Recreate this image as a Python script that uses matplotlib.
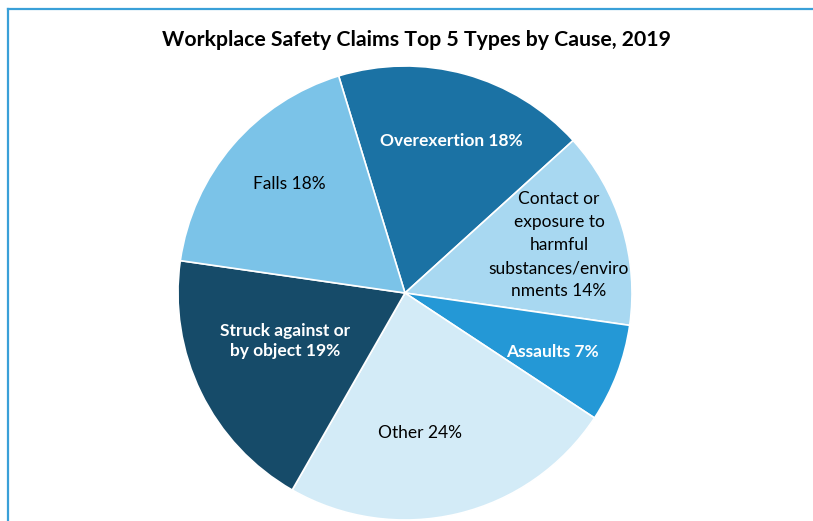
import matplotlib
matplotlib.use("Agg")
import matplotlib.pyplot as plt
from matplotlib.lines import Line2D

plt.rcParams['font.family'] = ['Lato', 'DejaVu Sans']

title = "Workplace Safety Claims Top 5 Types by Cause, 2019"
causes = ["Overexertion", "Contact or exposure to harmful substances/environments",
          "Assaults", "Other", "Struck against or by object", "Falls"]
shares = [18, 14, 7, 24, 19, 18]
colors = ["#1b72a4", "#a8d8f1", "#2498d6", "#d3ebf7", "#164b69", "#7bc3e8"]

# label text, position (pixels), colour, weight
labels = [
    ("Overexertion 18%", (451, 141), "white", "bold"),
    ("Contact or\nexposure to\nharmful\nsubstances/enviro\nnments 14%", (559, 245), "black", "normal"),
    ("Assaults 7%", (552, 352), "white", "bold"),
    ("Other 24%", (420, 433), "black", "normal"),
    ("Struck against or\nby object 19%", (285, 341), "white", "bold"),
    ("Falls 18%", (289, 184), "black", "normal"),
]

W, H = 813, 521
cx, cy, r = 405, 293, 227

fig = plt.figure(figsize=(W / 100, H / 100), dpi=100)
ax = fig.add_axes([(cx - r) / W, (H - cy - r) / H, 2 * r / W, 2 * r / H])
ax.pie(shares, colors=colors, startangle=107, counterclock=False, radius=1,
       wedgeprops=dict(edgecolor="white", linewidth=1.2))
ax.set_xlim(-1, 1)
ax.set_ylim(-1, 1)
ax.set_aspect("equal")
ax.set_axis_off()

for (text, (px, py), col, wt), share in zip(labels, shares):
    ax.text((px - cx) / r, (cy - py) / r, text, color=col, fontweight=wt,
            fontsize=12.5, ha="center", va="center",
            linespacing=1.55 if text.count("\n") > 1 else 1.3)

fig.text(416 / W, 1 - 40 / H, title, ha="center", va="center",
         fontsize=15.3, fontweight="bold")

# chart frame: left and top edges only
fig.add_artist(Line2D([7.5 / W, 7.5 / W], [0, 1 - 9 / H], transform=fig.transFigure,
                      color="#3aa0d8", linewidth=1.6))
fig.add_artist(Line2D([7.5 / W, 1], [1 - 9 / H, 1 - 9 / H], transform=fig.transFigure,
                      color="#3aa0d8", linewidth=1.6))

fig.savefig("out.png", dpi=100)
